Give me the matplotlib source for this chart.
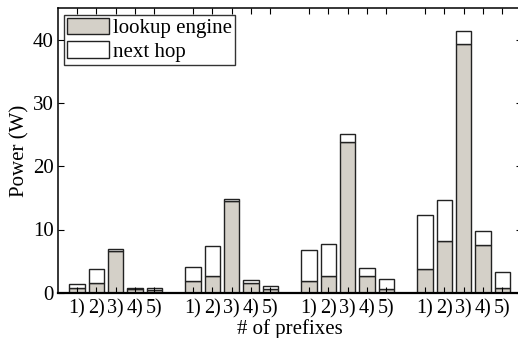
import numpy as np
import matplotlib
matplotlib.use("Agg")
import matplotlib.pyplot as plt

# positions 1..5 in four groups, one gap between groups
groups = 4
labels = ["1)", "2)", "3)", "4)", "5)"]

lookup = [0.7, 1.6, 6.6, 0.6, 0.5,
          1.8, 2.6, 14.5, 1.6, 0.6,
          1.9, 2.6, 23.8, 2.7, 0.6,
          3.8, 8.2, 39.3, 7.6, 0.8]
total = [1.4, 3.7, 6.9, 0.8, 0.7,
         4.1, 7.4, 14.9, 2.0, 1.1,
         6.7, 7.7, 25.1, 3.9, 2.1,
         12.3, 14.7, 41.4, 9.7, 3.2]
next_hop = [t - l for t, l in zip(total, lookup)]

plt.rcParams['font.family'] = ['Liberation Serif', 'DejaVu Serif']
plt.rcParams['font.size'] = 15

x = np.array([g * 6 + i + 1 for g in range(groups) for i in range(5)])

fig = plt.figure(figsize=(5.18, 3.38), dpi=100)
ax = fig.add_axes([57.7 / 518, 45.3 / 338, 464 / 518, 284.4 / 338])

ax.bar(x, lookup, width=0.8, color='#d4d0c8', edgecolor='#222222',
       linewidth=1.0, label='lookup engine')
ax.bar(x, next_hop, width=0.8, bottom=lookup, color='white',
       edgecolor='#222222', linewidth=1.0, label='next hop')

ax.set_xlim(0, 24)
ax.set_ylim(0, 45)
ax.set_xticks(x)
ax.set_xticklabels(labels * groups)
ax.set_yticks([0, 10, 20, 30, 40])
ax.tick_params(direction='in', top=True, right=True, length=4, width=0.8)
ax.tick_params(axis='x', pad=5, labelsize=14.5)
ax.tick_params(axis='y', pad=3)
for s in ax.spines.values():
    s.set_linewidth(1.1)
ax.spines['bottom'].set_linewidth(1.6)

ax.set_xlabel('# of prefixes', labelpad=0)
ax.set_ylabel('Power (W)', labelpad=2)

leg = ax.legend(loc='upper left', fancybox=False, edgecolor='black',
                borderpad=0.15, labelspacing=0.15, handlelength=2.0,
                handleheight=0.85, handletextpad=0.2, borderaxespad=0.3)
leg.get_frame().set_linewidth(1.0)

fig.savefig('out.png', dpi=100)
